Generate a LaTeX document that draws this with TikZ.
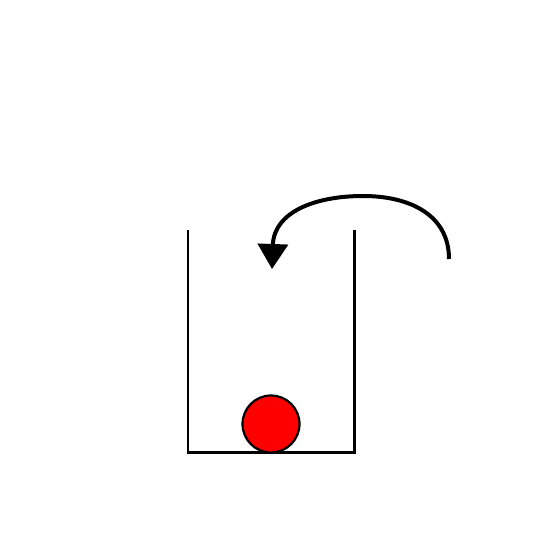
\documentclass[tikz,border=0pt]{standalone}
\usepackage{tikz}
\usetikzlibrary{arrows.meta}
\definecolor{BallRed}{RGB}{255,0,0}

\begin{document}
\begin{tikzpicture}[x=1pt, y=-1pt,
  cupline/.style={line width=2.8pt, line join=miter},
  ball/.style={circle, draw, line width=2.2pt, fill=BallRed, minimum size=57pt, inner sep=0pt},
  turn/.style={line width=4pt, -{Triangle[length=25pt, width=30pt]}}]
\useasboundingbox (0,0) rectangle (541,540);
% cup
\draw[cupline] (188,230) -- (188,452.5) -- (354.5,452.5) -- (354.5,230);
% ball resting on the bottom
\node[ball] (ball) at (271,424) {};
% turning arrow
\coordinate (from) at (449,259);
\coordinate (top) at (363,196);
\coordinate (to) at (272,269);
\draw[turn] (from) .. controls (449,215) and (410,196) .. (top)
  .. controls (315,196) and (274,212) .. (to);
\end{tikzpicture}
\end{document}
